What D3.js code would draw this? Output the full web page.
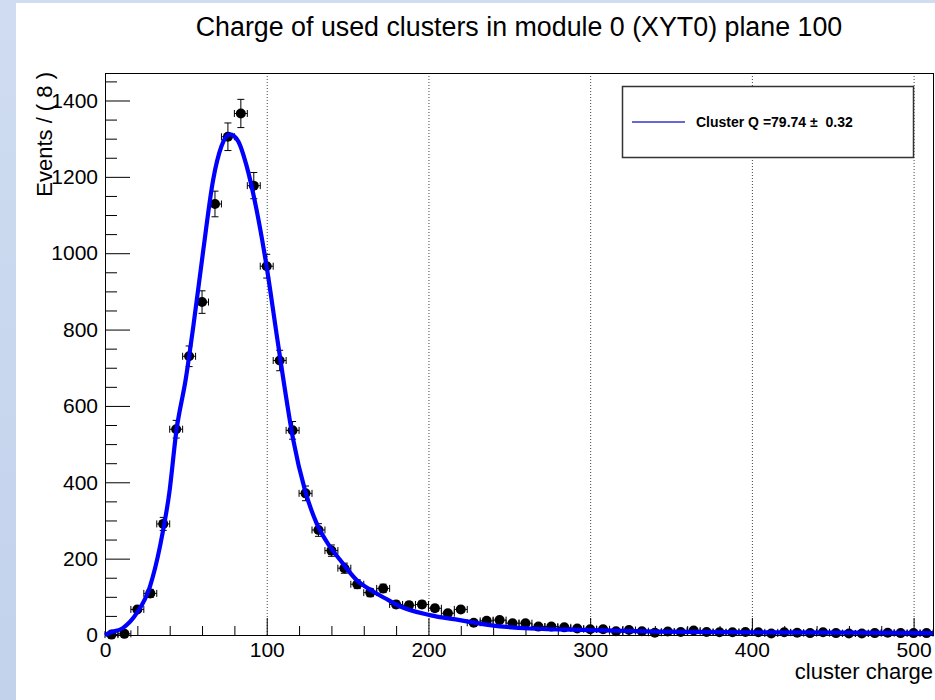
<!DOCTYPE html>
<html lang="en">

<head>
    <meta charset="UTF-8">
    <title>Charge of used clusters</title>
    <script src="https://cdnjs.cloudflare.com/ajax/libs/d3/7.8.5/d3.min.js"></script>
    <style>
        html,
        body {
            margin: 0;
            padding: 0;
            background: #fff;
        }

        svg {
            display: block;
            font-family: "Liberation Sans", Arial, Helvetica, sans-serif;
        }

        .axis text {
            font-size: 21px;
            fill: #000;
        }

        .axis line {
            stroke: #000;
        }

        .legend text {
            white-space: pre;
        }
    </style>
</head>

<body>
    <div id="wrap"></div>
    <script>
        // histogram bins (bin width 8)
        var binCenters = [4, 12, 20, 28, 36, 44, 52, 60, 68, 76, 84, 92, 100, 108, 116, 124,
            132, 140, 148, 156, 164, 172, 180, 188, 196, 204, 212, 220, 228, 236, 244, 252,
            260, 268, 276, 284, 292, 300, 308, 316, 324, 332, 340, 348, 356, 364, 372, 380,
            388, 396, 404, 412, 420, 428, 436, 444, 452, 460, 468, 476, 484, 492, 500, 508
        ];
        var counts = [1, 3, 67, 109, 291, 539, 730, 872, 1129, 1305, 1366, 1177, 966, 719, 536, 371,
            275, 221, 175, 133, 111, 122, 80, 78, 80, 70, 57, 67, 32, 37, 39, 31,
            31, 22, 22, 20, 17, 15, 15, 10, 13, 10, 6, 9, 8, 12, 8, 7,
            7, 8, 7, 4, 7, 6, 5, 7, 5, 4, 4, 5, 6, 5, 5, 5
        ];
        var binHalf = 4;

        // fitted curve
        var fitX = [0, 3, 11, 19.6, 27.8, 34, 40, 44, 50, 54.6, 60.8, 66.9, 72, 77.3, 82.4, 87.6,
            93.7, 99.9, 106, 110.2, 116.4, 123.6, 130.8, 139, 145.3, 155.6, 165.8, 175, 182,
            200.9, 219.4, 238, 262.7, 300, 341, 400, 460, 512
        ];
        var fitY = [0, 6, 18, 57, 127, 232, 380, 530, 672, 808, 1009, 1193, 1280, 1311, 1293, 1228,
            1114, 966, 791, 672, 511, 380, 293, 232, 197, 144, 114, 92, 76,
            52, 39, 26, 17, 13, 9, 7, 6, 5
        ];

        // axis ticks
        var xMajor = [0, 100, 200, 300, 400, 500];
        var xMinor = [20, 40, 60, 80, 120, 140, 160, 180, 220, 240, 260, 280, 320, 340, 360, 380, 420, 440, 460, 480];
        var yMajor = [0, 200, 400, 600, 800, 1000, 1200, 1400];
        var yMinor = [50, 100, 150, 250, 300, 350, 450, 500, 550, 650, 700, 750, 850, 900, 950, 1050, 1100, 1150, 1250, 1300, 1350, 1450];

        var TITLE = 'Charge of used clusters in module 0 (XYT0) plane 100',
            XLABEL = 'cluster charge',
            YLABEL = 'Events / ( 8 )',
            LEGENDTEXT = 'Cluster Q =79.74 \u00b1  0.32';

        var WIDTH = 935,
            HEIGHT = 700,
            LEFT = 105,
            RIGHT = 933,
            TOP = 73,
            BOTTOM = 635;

        var x = d3.scaleLinear().domain([0, 512]).range([LEFT, RIGHT]);
        var y = d3.scaleLinear().domain([0, 1472]).range([BOTTOM, TOP]);

        var svg = d3.select('#wrap').append('svg')
            .attr('width', WIDTH)
            .attr('height', HEIGHT);

        // light blue backdrop of the slide
        var grad = svg.append('defs').append('linearGradient')
            .attr('id', 'bg').attr('x1', 0).attr('y1', 0).attr('x2', 0).attr('y2', 1);
        grad.append('stop').attr('offset', '0%').attr('stop-color', '#cfdcf1');
        grad.append('stop').attr('offset', '100%').attr('stop-color', '#c2d2eb');
        svg.append('rect').attr('width', WIDTH).attr('height', HEIGHT).attr('fill', 'url(#bg)');
        svg.append('rect').attr('x', 16).attr('y', 3).attr('width', WIDTH - 16).attr('height', HEIGHT - 3).attr('fill', '#fff');

        // title
        svg.append('text')
            .attr('x', 519)
            .attr('y', 36)
            .attr('text-anchor', 'middle')
            .attr('font-size', 26.8)
            .text(TITLE);

        // dotted grid at major x ticks
        svg.append('g').selectAll('line')
            .data(xMajor.filter(function(d) { return d > 0; }))
            .enter().append('line')
            .attr('x1', function(d) { return x(d) + 0.5; })
            .attr('x2', function(d) { return x(d) + 0.5; })
            .attr('y1', TOP)
            .attr('y2', BOTTOM)
            .attr('stroke', '#444')
            .attr('stroke-width', 1)
            .attr('stroke-dasharray', '1,2');

        // axes (ticks pointing inward)
        var gx = svg.append('g').attr('class', 'axis').attr('transform', 'translate(0,' + BOTTOM + ')');
        gx.call(d3.axisBottom(x).tickValues(xMajor).tickSize(-17).tickPadding(7).tickFormat(d3.format('d')));
        gx.call(function(g) { g.select('.domain').remove(); });
        var gx2 = svg.append('g').attr('class', 'axis').attr('transform', 'translate(0,' + BOTTOM + ')');
        gx2.call(d3.axisBottom(x).tickValues(xMinor).tickSize(-9).tickFormat(''));
        gx2.call(function(g) { g.select('.domain').remove(); });

        var gy = svg.append('g').attr('class', 'axis').attr('transform', 'translate(' + LEFT + ',0)');
        gy.call(d3.axisLeft(y).tickValues(yMajor).tickSize(-25).tickPadding(7).tickFormat(d3.format('d')));
        gy.call(function(g) { g.select('.domain').remove(); });
        var gy2 = svg.append('g').attr('class', 'axis').attr('transform', 'translate(' + LEFT + ',0)');
        gy2.call(d3.axisLeft(y).tickValues(yMinor).tickSize(-12).tickFormat(''));
        gy2.call(function(g) { g.select('.domain').remove(); });

        // frame
        svg.append('rect')
            .attr('x', LEFT + 0.5)
            .attr('y', TOP + 0.5)
            .attr('width', RIGHT - LEFT)
            .attr('height', BOTTOM - TOP)
            .attr('fill', 'none')
            .attr('stroke', '#000')
            .attr('stroke-width', 1);

        // axis titles
        svg.append('text')
            .attr('x', RIGHT)
            .attr('y', 679)
            .attr('text-anchor', 'end')
            .attr('font-size', 22)
            .text(XLABEL);
        svg.append('text')
            .attr('transform', 'translate(52,' + (TOP - 1) + ') rotate(-90)')
            .attr('text-anchor', 'end')
            .attr('font-size', 22)
            .text(YLABEL);

        // data points with error bars
        var pts = svg.append('g').attr('class', 'points');
        var pt = pts.selectAll('g')
            .data(binCenters.map(function(c, i) { return { x: c, n: counts[i] }; }))
            .enter().append('g');
        // vertical error
        pt.append('line')
            .attr('x1', function(d) { return x(d.x); })
            .attr('x2', function(d) { return x(d.x); })
            .attr('y1', function(d) { return y(d.n + Math.sqrt(d.n)); })
            .attr('y2', function(d) { return y(Math.max(0, d.n - Math.sqrt(d.n))); })
            .attr('stroke', '#000');
        pt.append('line')
            .attr('x1', function(d) { return x(d.x) - 3.5; })
            .attr('x2', function(d) { return x(d.x) + 3.5; })
            .attr('y1', function(d) { return y(d.n + Math.sqrt(d.n)); })
            .attr('y2', function(d) { return y(d.n + Math.sqrt(d.n)); })
            .attr('stroke', '#000');
        pt.append('line')
            .attr('x1', function(d) { return x(d.x) - 3.5; })
            .attr('x2', function(d) { return x(d.x) + 3.5; })
            .attr('y1', function(d) { return y(Math.max(0, d.n - Math.sqrt(d.n))); })
            .attr('y2', function(d) { return y(Math.max(0, d.n - Math.sqrt(d.n))); })
            .attr('stroke', '#000');
        // horizontal error
        pt.append('line')
            .attr('x1', function(d) { return x(d.x - binHalf); })
            .attr('x2', function(d) { return x(d.x + binHalf); })
            .attr('y1', function(d) { return y(d.n); })
            .attr('y2', function(d) { return y(d.n); })
            .attr('stroke', '#000');
        pt.append('line')
            .attr('x1', function(d) { return x(d.x + binHalf); })
            .attr('x2', function(d) { return x(d.x + binHalf); })
            .attr('y1', function(d) { return y(d.n) - 3.5; })
            .attr('y2', function(d) { return y(d.n) + 3.5; })
            .attr('stroke', '#000');
        pt.append('line')
            .attr('x1', function(d) { return x(d.x - binHalf); })
            .attr('x2', function(d) { return x(d.x - binHalf); })
            .attr('y1', function(d) { return y(d.n) - 3.5; })
            .attr('y2', function(d) { return y(d.n) + 3.5; })
            .attr('stroke', '#000');
        pt.append('circle')
            .attr('cx', function(d) { return x(d.x); })
            .attr('cy', function(d) { return y(d.n); })
            .attr('r', 5)
            .attr('fill', '#000');

        // fit curve
        var line = d3.line()
            .x(function(d) { return x(d[0]); })
            .y(function(d) { return y(d[1]); })
            .curve(d3.curveMonotoneX);
        svg.append('path')
            .datum(fitX.map(function(v, i) { return [v, fitY[i]]; }))
            .attr('d', line)
            .attr('fill', 'none')
            .attr('stroke', '#0000ff')
            .attr('stroke-width', 4.2)
            .attr('stroke-linejoin', 'round');

        // legend
        var lg = svg.append('g').attr('class', 'legend');
        lg.append('rect')
            .attr('x', 622.5)
            .attr('y', 86.5)
            .attr('width', 291)
            .attr('height', 71)
            .attr('fill', '#fff')
            .attr('stroke', '#333')
            .attr('stroke-width', 1.5);
        lg.append('line')
            .attr('x1', 632)
            .attr('x2', 685)
            .attr('y1', 122)
            .attr('y2', 122)
            .attr('stroke', '#3535c8')
            .attr('stroke-width', 1.5);
        lg.append('text')
            .attr('x', 696)
            .attr('y', 127)
            .attr('font-size', 14)
            .attr('font-weight', 'bold')
            .text(LEGENDTEXT);
    </script>
</body>

</html>
